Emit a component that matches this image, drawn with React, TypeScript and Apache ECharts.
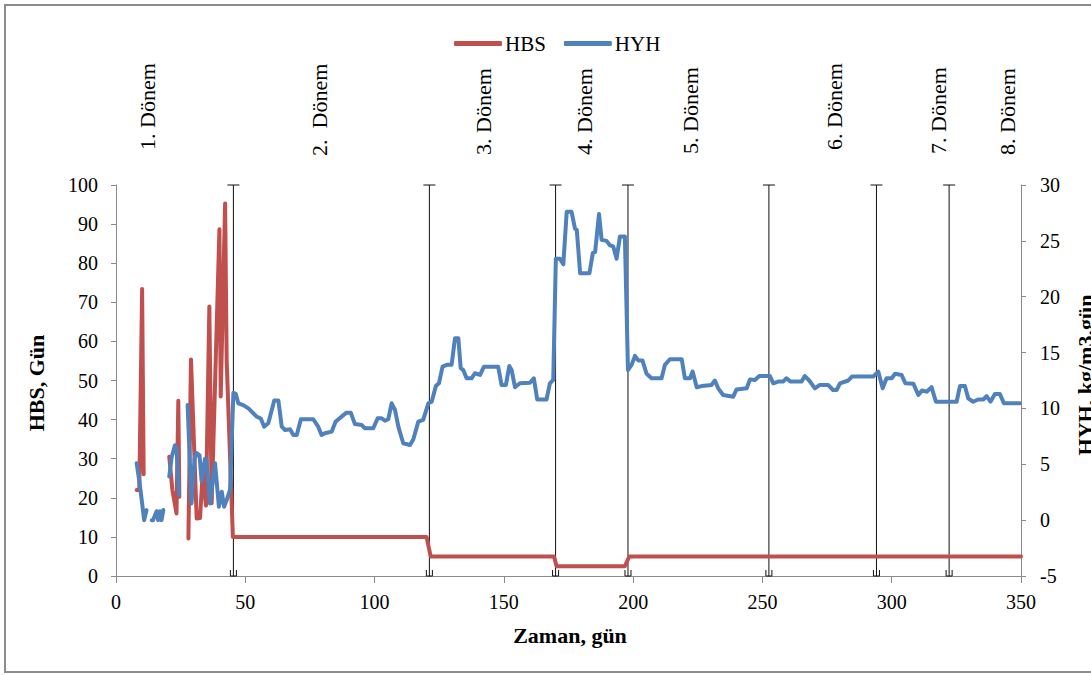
import React, { useEffect, useRef } from "react";
import * as echarts from "echarts";

// ---- data ----
const hbsDays = [8, 9, 10.1, 10.7, 15, 20.6, 21.8, 23.4, 24.1, 24.5, 26, 28, 29, 31.2, 32.5, 33.5, 34.8, 36.1, 37, 40, 40.5, 42.2, 42.8, 45.2, 120.1, 121.7, 169.4, 170.4, 196.8, 198.5, 350];
const hbsValues = [22, 22, 73.4, 26, null, 30.5, 22, 16, 44.8, 20.3, null, 9.6, 55.4, 14.7, 14.8, 26, 18, 68.9, 18.6, 88.7, 45.9, 95.3, 55, 10, 10, 5, 5, 2.5, 2.5, 5, 5];

const hyhDays = [8, 9.2, 10.9, 11.8, 12.8, 13.8, 14.3, 15.7, 16.3, 17.0, 17.6, 18.3, 19.5, 20.6, 21.5, 22.8, 23.4, 24.4, 26,
  27.7, 29.2, 30.4, 31.2, 32.3, 33.1, 34.4, 35.0, 36.3, 38.3, 39.8, 40.9, 41.8, 42.8, 44.1, 45.4, 46.3,
  47.3, 49.2, 51.2, 53.1, 54.4, 56.0, 57.3, 58.9, 61.2, 62.8, 64.1, 65.4, 67.3, 68.6, 69.9, 71.5, 76.3, 78.2, 79.5, 80.8,
  83.4, 84.9, 87.2, 89.2, 90.8, 92.4, 95.0, 96.3, 99.5, 101.2, 102.7, 104.0, 105.3, 106.6, 107.9, 109.2, 110.5, 111.1,
  113.7, 115, 116.9, 118.8, 120.8, 122.1, 123.7, 124.9, 126.3, 127.9, 129.8, 131.1, 132.4, 133.3, 134.3, 135.6, 137.5,
  138.8, 140.8, 142.3, 147.8, 149.1, 150.8, 152.1, 153.0, 154.3, 156.2, 160.1, 161.6, 162.9, 166.5, 167.8, 169.1,
  170.1, 171.7, 173, 174.3, 176.2, 177.5, 178.2, 179.5, 183.1, 184.4, 185.3, 186.8, 187.8, 189.7, 191.0, 192.3, 193.6,
  194.9, 196.8, 198.0, 199.4, 200.7, 202.0, 203.6, 205.2, 207.1, 211.0, 212.3, 214.2, 218.8, 220.0, 222.0, 223.0, 224.6,
  226.5, 230.3, 231.6, 232.9, 234.8, 238.7, 240.0, 243.9, 245.2, 247.1, 248.8, 252.9, 254.2, 256.1, 258.0, 259.3, 260.9,
  265.1, 266.4, 268.1, 270.3, 272.2, 275.4, 277.3, 278.7, 280.0, 283.2, 284.6, 292.8, 294.8, 296.5, 298.0, 300.0, 301.3,
  303.8, 305.3, 308.4, 310.3, 311.7, 313.5, 315.4, 317.1, 325.1, 326.4, 328.3, 329.6, 331.5, 333.4, 335.4, 336.7, 338.2,
  339.9, 341.8, 343.4, 349.6];
const hyhValues = [5.1, 3.2, 0.0, 0.9, null, 0.0, 0.0, 0.8, 0.0, 0.8, 0.0, 0.9, null, 3.9, 5.6, 6.7, 6.5, 2.25, null,
  10.3, 1.5, 5.5, 6.0, 5.8, 3.5, 5.5, 5.4, 1.5, 5.1, 1.2, 2.55, 1.2, 1.8, 2.7, 11.4, 11.3,
  10.46, 10.3, 10.0, 9.57, 9.26, 9.1, 8.37, 8.67, 10.7, 10.7, 8.37, 8.07, 8.13, 7.62, 7.62, 9.03, 9.03, 8.37, 7.62, 7.78,
  7.92, 8.81, 9.26, 9.62, 9.62, 8.6, 8.52, 8.22, 8.22, 9.12, 9.12, 8.9, 9.03, 10.46, 9.86, 8.37, 7.33, 6.88,
  6.73, 7.24, 8.81, 8.97, 10.46, 10.6, 12.0, 12.25, 13.74, 13.9, 13.9, 16.28, 16.28, 13.6, 13.44, 12.7, 12.7,
  13.15, 13.0, 13.74, 13.74, 12.1, 12.1, 13.8, 13.44, 11.9, 12.25, 12.3, 12.7, 10.8, 10.8, 12.25, 12.55,
  23.4, 23.4, 22.9, 27.6, 27.6, 26.1, 26.0, 22.1, 22.1, 23.9, 24.0, 27.4, 25.1, 25.0, 24.6, 24.5, 23.4,
  25.4, 25.4, 13.44, 13.9, 14.7, 14.3, 14.3, 13.1, 12.7, 12.7, 13.9, 14.4, 14.4, 12.7, 12.7, 13.3, 11.9,
  12.0, 12.1, 12.5, 11.8, 11.2, 11.05, 11.7, 11.8, 12.6, 12.55, 12.9, 12.9, 12.25, 12.4, 12.4, 12.7, 12.4,
  12.4, 12.9, 12.5, 11.8, 12.1, 12.1, 11.65, 11.65, 12.25, 12.5, 12.85, 12.85, 13.3, 11.8, 12.7, 12.7, 13.1,
  13.0, 12.25, 12.2, 11.2, 11.6, 11.5, 11.9, 10.6, 10.6, 12.0, 12.0, 10.9, 10.6, 10.8, 10.8, 11.1, 10.6,
  11.3, 11.3, 10.46, 10.46];

const periodBoundaries = [45.4, 121.2, 170, 198, 252.5, 294.1, 322.2];
const periodLabels = ["1. Dönem", "2.  Dönem", "3. Dönem", "4. Dönem", "5. Dönem", "6. Dönem", "7. Dönem", "8. Dönem"];

const xTicks = { min: 0, max: 350, interval: 50 };
const leftTicks = { min: 0, max: 100, interval: 10 };
const rightTicks = { min: -5, max: 30, interval: 5 };

// ---- presentation ----
const labelPx = [147, 319, 483, 584, 690, 834, 938, 1007];
const labelBottom = [150, 156, 155, 155, 154, 150, 154, 155];

const FONT = '"Times New Roman", "Liberation Serif", serif';
const RED = "#C0504D";
const BLUE = "#4F81BD";
const AXIS = "#8a8a8a";

export default function App() {
  const ref = useRef<HTMLDivElement>(null);
  useEffect(() => {
    document.body.style.margin = "0";
    if (!ref.current) return;
    const chart = echarts.init(ref.current, null, { renderer: "svg" });
    const hbs = hbsDays.map((d, i) => [d, hbsValues[i]]);
    const hyh = hyhDays.map((d, i) => [d, hyhValues[i]]);

    const axisCommon = {
      axisLine: { show: true, lineStyle: { color: AXIS, width: 1 } },
      axisTick: { show: true, length: 5, lineStyle: { color: AXIS } },
      splitLine: { show: false },
      axisLabel: { color: "#000", fontSize: 20, fontFamily: FONT },
    };

    const graphics: any[] = [
      {
        type: "rect",
        shape: { x: 5, y: 5, width: 1100, height: 667 },
        style: { fill: "none", stroke: "#8c8c8c", lineWidth: 2 },
        silent: true,
      },
      {
        type: "text",
        x: 36,
        y: 383,
        rotation: Math.PI / 2,
        style: { text: "HBS, Gün", fontSize: 22, fontWeight: "bold", fontFamily: FONT, fill: "#000", align: "center", verticalAlign: "middle" },
      },
      {
        type: "text",
        x: 570,
        y: 635,
        style: { text: "Zaman, gün", fontSize: 22, fontWeight: "bold", fontFamily: FONT, fill: "#000", align: "center", verticalAlign: "middle" },
      },
      {
        type: "text",
        x: 1085,
        y: 375,
        rotation: Math.PI / 2,
        style: { text: "HYH, kg/m3.gün", fontSize: 22, fontWeight: "bold", fontFamily: FONT, fill: "#000", align: "center", verticalAlign: "middle" },
      },
    ];
    periodLabels.forEach((t, i) => {
      graphics.push({
        type: "text",
        x: labelPx[i],
        y: labelBottom[i],
        rotation: Math.PI / 2,
        style: { text: t, fontSize: 22, fontFamily: FONT, fill: "#000", align: "left", verticalAlign: "middle" },
      });
    });

    chart.setOption({
      animation: false,
      backgroundColor: "#fff",
      grid: { left: 116, right: 70, top: 185, bottom: 99, containLabel: false },
      legend: {
        data: ["HBS", "HYH"],
        left: 449,
        top: 28,
        icon: "roundRect",
        itemWidth: 48,
        itemHeight: 5,
        itemGap: 18,
        textStyle: { color: "#000", fontSize: 21, fontFamily: FONT, padding: [0, 0, 0, -2] },
      },
      xAxis: {
        type: "value",
        ...xTicks,
        ...axisCommon,
        axisLabel: { ...axisCommon.axisLabel, margin: 16 },
        axisTick: { show: true, length: 7, lineStyle: { color: AXIS } },
      },
      yAxis: [
        {
          type: "value",
          ...leftTicks,
          ...axisCommon,
          axisLabel: { ...axisCommon.axisLabel, margin: 18 },
        },
        {
          type: "value",
          position: "right",
          ...rightTicks,
          ...axisCommon,
          axisLabel: { ...axisCommon.axisLabel, margin: 19 },
        },
      ],
      graphic: graphics,
      series: [
        {
          type: "custom",
          name: "periods",
          xAxisIndex: 0,
          yAxisIndex: 0,
          z: 1,
          silent: true,
          data: periodBoundaries.map((v) => [v, 0]),
          renderItem: (params: any, api: any) => {
            const x = api.value(0);
            const top = api.coord([x, 100]);
            const bot = api.coord([x, 0]);
            const st = { stroke: "#111", lineWidth: 1 };
            return {
              type: "group",
              children: [
                { type: "line", shape: { x1: top[0], y1: top[1], x2: bot[0], y2: bot[1] }, style: st },
                { type: "line", shape: { x1: top[0] - 6, y1: top[1], x2: top[0] + 6, y2: top[1] }, style: st },
                { type: "line", shape: { x1: bot[0] - 3, y1: bot[1] - 6, x2: bot[0] - 3, y2: bot[1] }, style: st },
                { type: "line", shape: { x1: bot[0] + 3, y1: bot[1] - 6, x2: bot[0] + 3, y2: bot[1] }, style: st },
                { type: "line", shape: { x1: bot[0] - 3, y1: bot[1], x2: bot[0] + 3, y2: bot[1] }, style: st },
              ],
            };
          },
        },
        {
          name: "HBS",
          type: "line",
          yAxisIndex: 0,
          z: 3,
          data: hbs,
          showSymbol: false,
          connectNulls: false,
          color: RED,
          lineStyle: { color: RED, width: 4, cap: "round", join: "round" },
        },
        {
          name: "HYH",
          type: "line",
          yAxisIndex: 1,
          z: 4,
          data: hyh,
          showSymbol: false,
          connectNulls: false,
          color: BLUE,
          lineStyle: { color: BLUE, width: 4, cap: "round", join: "round" },
        },
      ],
    });
    return () => chart.dispose();
  }, []);
  return <div ref={ref} style={{ width: 1091, height: 675 }} />;
}
